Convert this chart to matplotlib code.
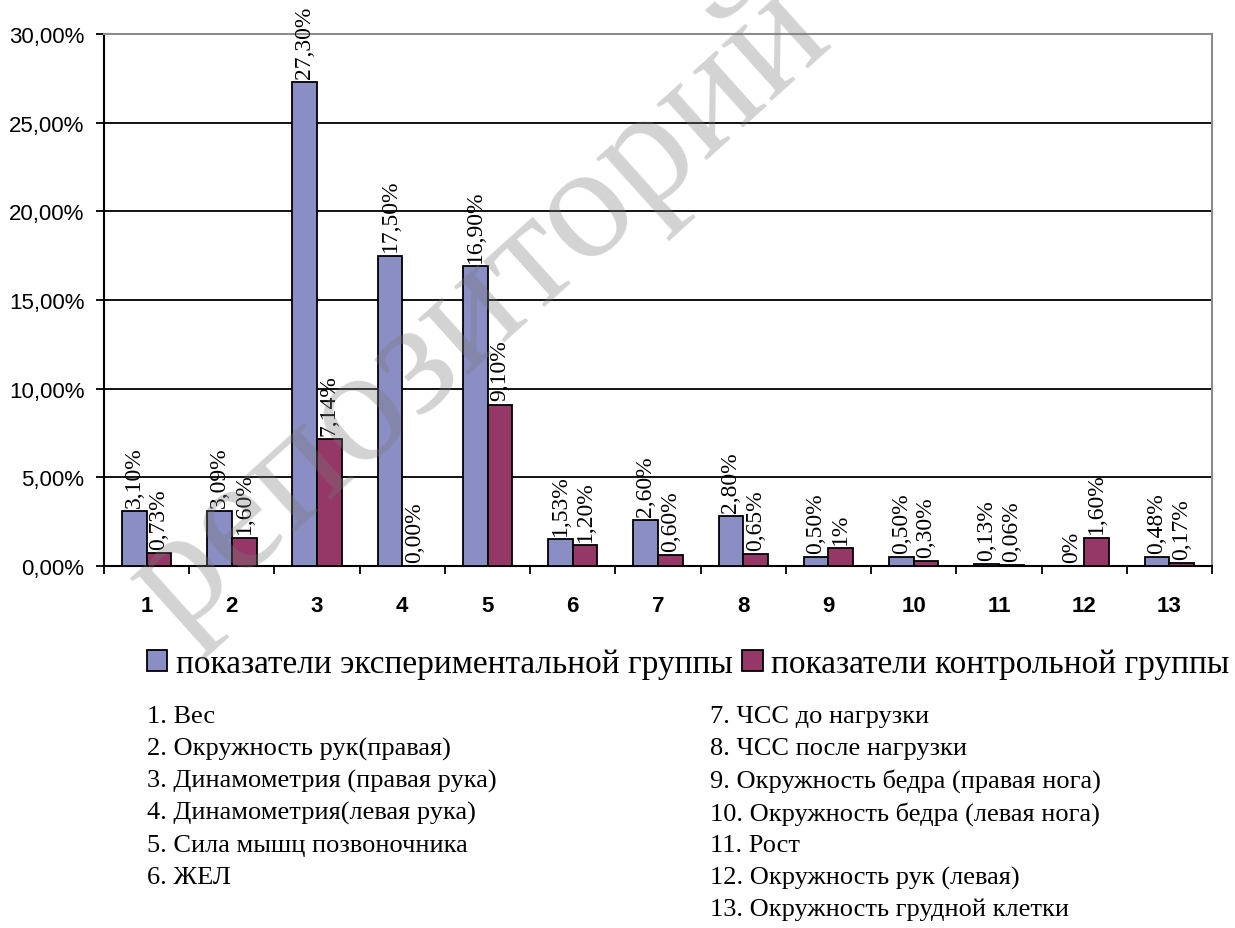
import matplotlib
matplotlib.use("Agg")
import matplotlib.pyplot as plt
import matplotlib.patches as mpatches
from matplotlib.ticker import FixedLocator, FuncFormatter
import numpy as np

# ---- data -------------------------------------------------------------
categories = ["1", "2", "3", "4", "5", "6", "7", "8", "9", "10", "11", "12", "13"]

exp_values = [3.10, 3.09, 27.30, 17.50, 16.90, 1.53, 2.60, 2.80, 0.50, 0.50, 0.13, 0.00, 0.48]
ctrl_values = [0.73, 1.60, 7.14, 0.00, 9.10, 1.20, 0.60, 0.65, 1.00, 0.30, 0.06, 1.60, 0.17]

exp_labels = ["3,10%", "3,09%", "27,30%", "17,50%", "16,90%", "1,53%", "2,60%",
              "2,80%", "0,50%", "0,50%", "0,13%", "0%", "0,48%"]
ctrl_labels = ["0,73%", "1,60%", "7,14%", "0,00%", "9,10%", "1,20%", "0,60%",
               "0,65%", "1%", "0,30%", "0,06%", "1,60%", "0,17%"]

series_names = ["показатели экспериментальной группы", "показатели контрольной группы"]

y_ticks = [0, 5, 10, 15, 20, 25, 30]

legend_left = ["1. Вес",
               "2. Окружность рук(правая)",
               "3. Динамометрия (правая рука)",
               "4. Динамометрия(левая рука)",
               "5. Сила мышц позвоночника",
               "6. ЖЕЛ"]
legend_right = ["7. ЧСС до нагрузки",
                "8. ЧСС после нагрузки",
                "9. Окружность бедра (правая нога)",
                "10. Окружность бедра (левая нога)",
                "11. Рост",
                "12. Окружность рук (левая)",
                "13. Окружность грудной клетки"]

# ---- styling ------------------------------------------------------------
BLUE = "#8A8EC4"
PLUM = "#953868"
SERIF = ["Liberation Serif", "DejaVu Serif"]
SANS = ["Liberation Sans", "DejaVu Sans"]

W, H = 1235, 929
fig = plt.figure(figsize=(W / 100, H / 100), dpi=100)
fig.patch.set_facecolor("white")

ax_l, ax_r, ax_t, ax_b = 104, 1212, 35, 567
ax = fig.add_axes([ax_l / W, 1 - ax_b / H, (ax_r - ax_l) / W, (ax_b - ax_t) / H])

x = np.arange(len(categories))
bw = 0.29

bars_exp = ax.bar(x - bw / 2, exp_values, bw, color=BLUE, edgecolor="black",
                  linewidth=1.3, zorder=3, label=series_names[0])
bars_ctrl = ax.bar(x + bw / 2, ctrl_values, bw, color=PLUM, edgecolor="black",
                   linewidth=1.3, zorder=3, label=series_names[1])

ax.set_xlim(-0.5, len(categories) - 0.5)
ax.set_ylim(0, 30)

# horizontal grid
ax.yaxis.set_major_locator(FixedLocator(y_ticks))
ax.yaxis.set_major_formatter(FuncFormatter(lambda v, p: f"{v:.2f}".replace(".", ",") + "%"))
ax.grid(axis="y", color="black", linewidth=1.3, zorder=1)
ax.set_axisbelow(True)

# category labels centred, tick marks on the boundaries
ax.set_xticks(x)
ax.set_xticklabels(categories, fontfamily=SANS, fontsize=16, fontweight="bold")
ax.tick_params(axis="x", which="major", length=0, pad=21)
ax.set_xticks(np.arange(-0.5, len(categories)), minor=True)
ax.tick_params(axis="x", which="minor", length=6, width=1.3, direction="out", color="black")
ax.tick_params(axis="y", length=6, width=1.3, direction="out", pad=8)
for lab in ax.get_yticklabels():
    lab.set_fontfamily(SANS)
    lab.set_fontsize(16)

for side in ("left", "bottom"):
    ax.spines[side].set_color("black")
    ax.spines[side].set_linewidth(1.5)
for side in ("top", "right"):
    ax.spines[side].set_color("#8c8c8c")
    ax.spines[side].set_linewidth(1.5)

# value labels above the bars
def put_labels(bars, texts):
    for b, t in zip(bars, texts):
        ax.annotate(t, xy=(b.get_x() + b.get_width() / 2, b.get_height()),
                    xytext=(0, 3), textcoords="offset points",
                    rotation=90, ha="center", va="bottom",
                    fontfamily=SERIF, fontsize=17, zorder=5,
                    annotation_clip=False)

put_labels(bars_exp, exp_labels)
put_labels(bars_ctrl, ctrl_labels)

# series legend
handles = [mpatches.Patch(facecolor=BLUE, edgecolor="black", linewidth=1.3),
           mpatches.Patch(facecolor=PLUM, edgecolor="black", linewidth=1.3)]
fig.legend(handles, series_names, loc="center", bbox_to_anchor=(688 / W, 1 - 665 / H),
           ncol=2, frameon=False, prop={"family": SERIF, "size": 24},
           handlelength=0.62, handleheight=0.62, handletextpad=0.25,
           columnspacing=0.3, borderpad=0)

# numbered key under the chart
row0, step = 717, 32.2
for i, s in enumerate(legend_left):
    fig.text(147 / W, 1 - (row0 + i * step) / H, s, ha="left", va="center",
             fontfamily=SERIF, fontsize=19)
for i, s in enumerate(legend_right):
    fig.text(710 / W, 1 - (row0 + i * step) / H, s, ha="left", va="center",
             fontfamily=SERIF, fontsize=19)

# faint diagonal stamp across the page
fig.text(480 / W, 1 - 310 / H, "репозиторий", ha="center", va="center",
         rotation=42, rotation_mode="anchor", fontfamily=SERIF, fontsize=118,
         color="#7a7a7a", alpha=0.33, zorder=10)

fig.savefig("out.png", dpi=100, facecolor="white")
